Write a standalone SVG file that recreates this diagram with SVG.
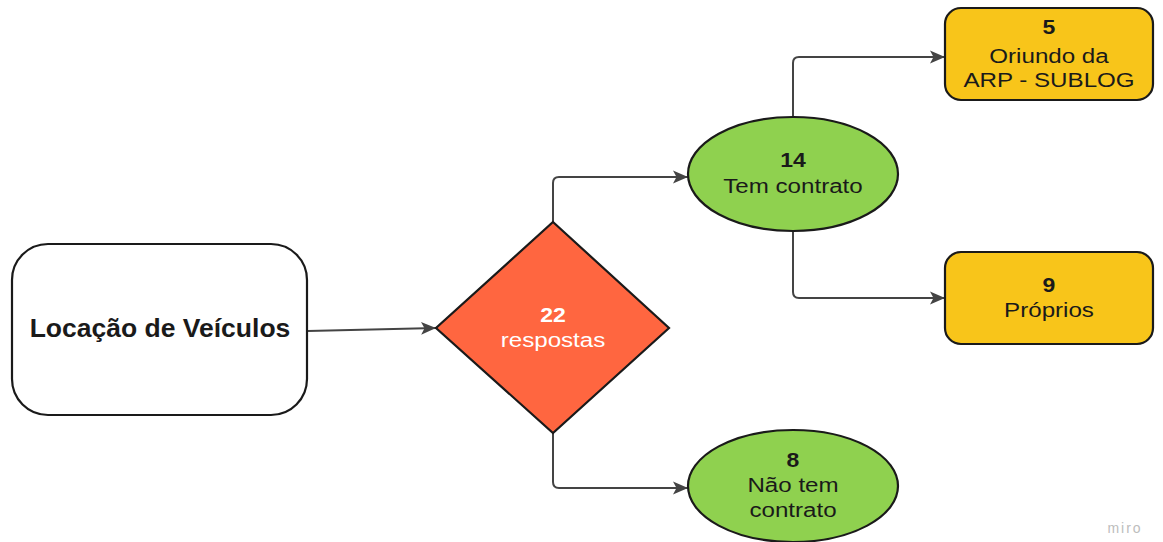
<svg xmlns="http://www.w3.org/2000/svg" width="1163" height="542" viewBox="0 0 1163 542">
<defs>
<style>
.t{font-family:"Liberation Sans",Arial,sans-serif;font-size:21px;fill:#1a1a1a;text-anchor:middle}
.b{font-family:"Liberation Sans",Arial,sans-serif;font-size:20px;font-weight:bold;fill:#1a1a1a;text-anchor:middle}
.w{fill:#ffffff}
.shape{stroke:#1a1a1a;stroke-width:2.2}
.conn{fill:none;stroke:#444444;stroke-width:2;stroke-linejoin:round}
</style>
<marker id="arr" markerUnits="userSpaceOnUse" markerWidth="16" markerHeight="14" refX="15" refY="7" orient="auto">
<path d="M0,0.5 L15,7 L0,13.5 L3.5,7 z" fill="#444444"/>
</marker>
</defs>
<rect width="1163" height="542" fill="#ffffff"/>
<g id="connectors">
<path class="conn" d="M308,331 L436,328" marker-end="url(#arr)"/>
<path class="conn" d="M553,222 L553,183 Q553,177 559,177 L688,177" marker-end="url(#arr)"/>
<path class="conn" d="M793,117 L793,63 Q793,57 799,57 L945,57" marker-end="url(#arr)"/>
<path class="conn" d="M793,231 L793,292 Q793,298 799,298 L945,298" marker-end="url(#arr)"/>
<path class="conn" d="M553,433 L553,482 Q553,488 559,488 L688,488" marker-end="url(#arr)"/>
</g>
<g id="node-locacao">
<rect class="shape" x="12" y="244" width="295" height="171" rx="36" ry="36" fill="#ffffff"/>
<text x="160" y="337" font-family="Liberation Sans, Arial, sans-serif" font-size="26.5" font-weight="bold" fill="#1a1a1a" text-anchor="middle">Locação de Veículos</text>
</g>
<g id="node-respostas">
<polygon class="shape" points="553,222 669,328 553,433 436,328" fill="#FF6640"/>
<text class="b w" transform="matrix(1.15 0 0 1 553 0)" x="0" y="322">22</text>
<text class="t w" transform="matrix(1.15 0 0 1 553 0)" x="0" y="347">respostas</text>
</g>
<g id="node-tem-contrato">
<ellipse class="shape" cx="793" cy="174" rx="105" ry="57" fill="#8FD14F"/>
<text class="b" transform="matrix(1.15 0 0 1 793 0)" x="0" y="167">14</text>
<text class="t" transform="matrix(1.15 0 0 1 793 0)" x="0" y="193">Tem contrato</text>
</g>
<g id="node-arp">
<rect class="shape" x="945" y="8" width="208" height="92" rx="16" ry="16" fill="#F8C51A"/>
<text class="b" transform="matrix(1.15 0 0 1 1049 0)" x="0" y="34">5</text>
<text class="t" transform="matrix(1.15 0 0 1 1049 0)" x="0" y="63">Oriundo da</text>
<text class="t" transform="matrix(1.15 0 0 1 1049 0)" x="0" y="87">ARP - SUBLOG</text>
</g>
<g id="node-proprios">
<rect class="shape" x="945" y="252" width="208" height="92" rx="16" ry="16" fill="#F8C51A"/>
<text class="b" transform="matrix(1.15 0 0 1 1049 0)" x="0" y="292">9</text>
<text class="t" transform="matrix(1.15 0 0 1 1049 0)" x="0" y="317">Próprios</text>
</g>
<g id="node-nao-tem">
<ellipse class="shape" cx="793" cy="486" rx="105" ry="56" fill="#8FD14F"/>
<text class="b" transform="matrix(1.15 0 0 1 793 0)" x="0" y="467">8</text>
<text class="t" transform="matrix(1.15 0 0 1 793 0)" x="0" y="492">Não tem</text>
<text class="t" transform="matrix(1.15 0 0 1 793 0)" x="0" y="517">contrato</text>
</g>
<text x="1125" y="533" font-family="Liberation Sans, Arial, sans-serif" font-size="14" letter-spacing="2" fill="#bdbdbd" text-anchor="middle">miro</text>
</svg>
